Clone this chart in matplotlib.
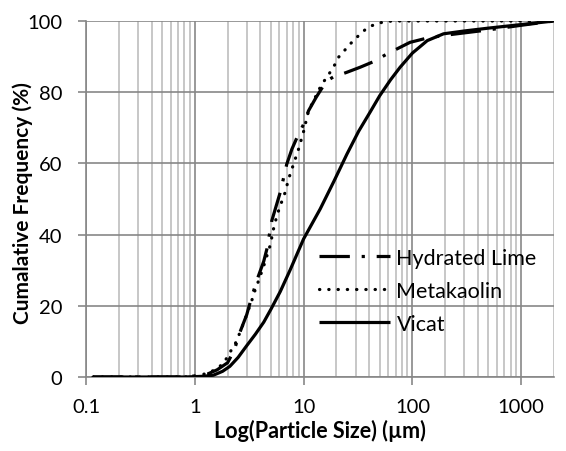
import matplotlib
matplotlib.use("Agg")
import matplotlib.pyplot as plt
from matplotlib.ticker import LogLocator, FixedLocator, FixedFormatter, NullFormatter

plt.rcParams['font.family'] = ['Lato', 'DejaVu Sans']

# ---- data ----
vicat_x = [0.116, 0.5, 0.8, 1.0, 1.2, 1.48, 1.8, 2.1, 2.5, 3.0, 3.6, 4.3, 5.0, 6.1, 7.5,
           10, 14.2, 19, 25, 32, 41, 50, 63, 77, 100, 137, 193, 300, 500, 1000, 2000]
vicat_y = [0, 0, 0, 0.1, 0.2, 0.5, 1.6, 3.0, 5.5, 8.8, 12, 15.4, 19, 24, 30,
           38.8, 47.2, 55, 62.6, 69, 74.5, 79, 83.5, 87, 91, 94.5, 96.4, 97.2, 98, 99, 100]

lime_x = [0.116, 0.5, 0.8, 1.0, 1.3, 1.6, 2.0, 2.3, 2.6, 3.0, 3.23, 3.7, 4.3, 4.6, 5.1,
          6.1, 7.0, 7.8, 8.7, 10, 11.1, 13, 15.2, 17, 18.8, 22, 25, 33, 44, 58, 77, 95,
          136, 200, 500, 1000, 2000]
lime_y = [0, 0, 0, 0.3, 0.8, 2, 4, 7.5, 12.6, 17.5, 21, 27, 32.5, 36, 43.9,
          51.9, 59.8, 64, 67.3, 71, 74.8, 78.5, 81.8, 83.5, 84.3, 85, 85.6, 87, 88.6, 90.7, 92.6, 94,
          95.2, 96, 97.5, 98.8, 100]

meta_x = [0.116, 0.5, 0.8, 1.0, 1.12, 1.48, 1.83, 2.1, 2.35, 2.6, 3.0, 3.34, 3.59, 3.85,
          4.28, 4.93, 5.29, 5.68, 6.1, 6.77, 7.27, 7.8, 8.37, 8.98, 10, 11.1, 13, 14.7, 16.4,
          19.5, 20.9, 23.3, 25.9, 28.8, 32, 36.9, 42.5, 48.9, 58.4, 70, 100, 1000, 2000]
meta_y = [0, 0, 0, 0.2, 0.4, 1.8, 3.7, 6.9, 9.3, 12.5, 17.5, 21.5, 24.5, 27,
          31, 37, 41.6, 45.3, 48.1, 51.9, 55.6, 58.4, 61.2, 64, 69, 74.8, 79, 82.3, 84.2,
          87.9, 89.8, 91.4, 93.1, 94.5, 95.9, 97.6, 98.7, 99.4, 99.9, 100, 100, 100, 100]

x_ticks = [0.1, 1, 10, 100, 1000]
x_tick_labels = ["0.1", "1", "10", "100", "1000"]
y_ticks = [0, 20, 40, 60, 80, 100]

W, H = 566, 452
fig = plt.figure(figsize=(W / 100, H / 100), dpi=100)
ax = fig.add_axes([86 / W, 1 - 378 / H, (554 - 86) / W, (378 - 22) / H])

major_c = '#878787'
minor_c = '#BEBEBE'

ax.set_xscale('log')
ax.set_xlim(0.1, 2000)
ax.set_ylim(0, 100)

ax.xaxis.set_major_locator(FixedLocator(x_ticks))
ax.xaxis.set_major_formatter(FixedFormatter(x_tick_labels))
ax.xaxis.set_minor_locator(LogLocator(base=10, subs=range(2, 10), numticks=20))
ax.xaxis.set_minor_formatter(NullFormatter())
ax.yaxis.set_major_locator(FixedLocator(y_ticks))

ax.grid(True, which='major', axis='both', color=major_c, lw=1.2, zorder=0)
ax.grid(True, which='minor', axis='x', color=minor_c, lw=1.2, zorder=0)
ax.set_axisbelow(True)

for s in ['top', 'right']:
    ax.spines[s].set_visible(False)
for s in ['left', 'bottom']:
    ax.spines[s].set_color(major_c)
    ax.spines[s].set_linewidth(1.2)

ax.tick_params(axis='both', which='major', direction='out', length=6, width=1.2,
               color=major_c, labelsize=14.5, labelcolor='black')
ax.tick_params(axis='y', pad=11)
ax.tick_params(axis='x', pad=9)
ax.tick_params(axis='x', which='minor', length=0)

lw = 2.3
l1, = ax.plot(lime_x, lime_y, color='black', lw=lw, dashes=(9.5, 3.7, 1, 3.7),
              dash_capstyle='butt', label='Hydrated Lime', zorder=3)
l2, = ax.plot(meta_x, meta_y, color='black', lw=lw, dashes=(0.1, 2.8),
              dash_capstyle='round', label='Metakaolin', zorder=3)
l3, = ax.plot(vicat_x, vicat_y, color='black', lw=lw, solid_capstyle='butt',
              label='Vicat', zorder=3)

ax.set_xlabel('Log(Particle Size) (µm)', fontsize=15.5, fontweight='bold', labelpad=3)
ax.set_ylabel('Cumalative Frequency (%)', fontsize=15, fontweight='bold')
ax.yaxis.set_label_coords(-0.113, 0.49)

leg = ax.legend(handles=[l1, l2, l3], loc='upper left',
                bbox_to_anchor=(319 / W, 1 - 249 / H), bbox_transform=fig.transFigure,
                frameon=False, fontsize=15.5, handlelength=3.3, handletextpad=0.3,
                labelspacing=0.6, borderpad=0, borderaxespad=0)

fig.savefig('out.png', dpi=100)
